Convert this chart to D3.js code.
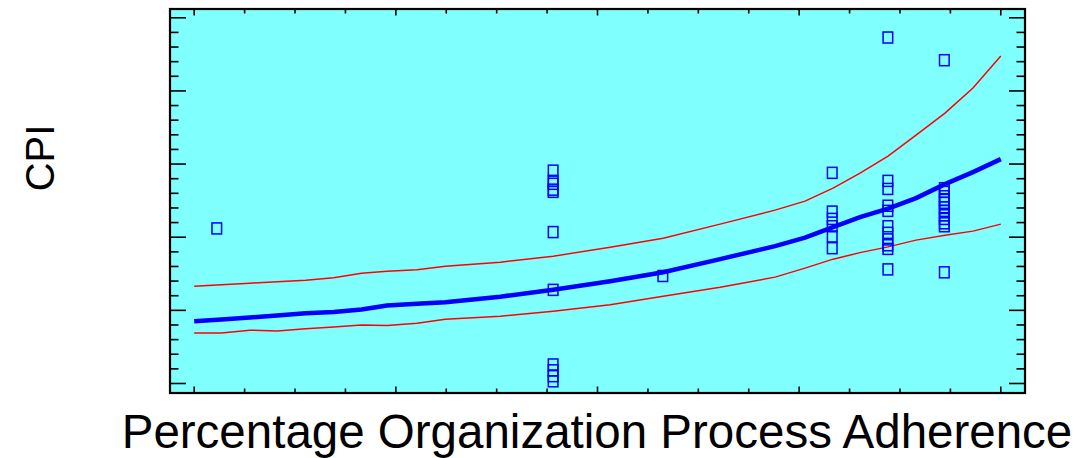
<!DOCTYPE html>
<html>
<head>
<meta charset="utf-8">
<script src="https://cdn.jsdelivr.net/npm/d3@7"></script>
<style>
  body { margin: 0; background: #fff; }
  text { font-family: "Liberation Sans", Arial, sans-serif; }
</style>
</head>
<body>
<svg id="chart"></svg>
<script>
const outerWidth = 1082;
const outerHeight = 458;
const plot = {left: 170, top: 9, right: 1025, bottom: 393};

// observations
const pointX = [2.8,
  44.5, 44.5, 44.5, 44.5, 44.5, 44.5, 44.5, 44.5, 44.5, 44.5, 44.5,
  58.1,
  79.1, 79.1, 79.1, 79.1, 79.1, 79.1,
  86.0, 86.0, 86.0, 86.0, 86.0, 86.0, 86.0, 86.0, 86.0, 86.0, 86.0,
  93.0, 93.0, 93.0, 93.0, 93.0, 93.0, 93.0, 93.0, 93.0, 93.0, 93.0, 93.0, 93.0];
const pointY = [2.12,
  2.91, 2.77, 2.73, 2.65, 2.62, 2.07, 1.28, 0.26, 0.18, 0.10, 0.03,
  1.47,
  2.88, 2.35, 2.25, 2.15, 2.01, 1.85,
  4.73, 2.77, 2.66, 2.43, 2.36, 2.15, 2.06, 1.97, 1.89, 1.84, 1.56,
  4.42, 2.67, 2.62, 2.56, 2.51, 2.47, 2.41, 2.36, 2.30, 2.25, 2.19, 2.15, 1.52];

// fitted model and limits
const fitX = [0, 3.38, 6.89, 10.28, 13.83, 17.29, 20.74, 23.91, 27.62, 31.13, 37.95, 44.51,
  51.57, 58.14, 65.20, 72.01, 75.73, 79.20, 82.55, 86.02, 89.49, 93.08, 96.55, 100];
const fitY = [0.852, 0.875, 0.903, 0.930, 0.961, 0.979, 1.012, 1.067, 1.089, 1.112, 1.187, 1.283,
  1.399, 1.522, 1.700, 1.878, 1.994, 2.138, 2.274, 2.391, 2.535, 2.726, 2.890, 3.068];
const upperY = [1.331, 1.351, 1.372, 1.392, 1.413, 1.447, 1.508, 1.536, 1.556, 1.604, 1.659, 1.741,
  1.864, 1.987, 2.179, 2.370, 2.493, 2.671, 2.876, 3.109, 3.396, 3.697, 4.039, 4.476];
const lowerY = [0.692, 0.692, 0.729, 0.719, 0.747, 0.774, 0.801, 0.793, 0.825, 0.879, 0.920, 0.989,
  1.078, 1.194, 1.317, 1.454, 1.577, 1.700, 1.789, 1.868, 1.960, 2.028, 2.083, 2.179];

const xMajor = [0, 25, 50, 75, 100];
const yMajor = [0, 1, 2, 3, 4, 5];

const x = d3.scaleLinear().domain([-3, 103]).range([plot.left, plot.right]);
const y = d3.scaleLinear().domain([-0.13, 5.12]).range([plot.bottom, plot.top]);

const svg = d3.select("#chart")
  .attr("width", outerWidth)
  .attr("height", outerHeight);

svg.append("rect")
  .attr("x", plot.left).attr("y", plot.top)
  .attr("width", plot.right - plot.left).attr("height", plot.bottom - plot.top)
  .style("fill", "#80ffff");

// ticks (inside, on all four sides)
var xMinor = d3.range(0, 100.01, 6.25).filter(d => xMajor.indexOf(d) < 0);
var yMinor = d3.range(0, 5.01, 0.2).map(d => +d.toFixed(1)).filter(d => yMajor.indexOf(d) < 0);

var ticks = svg.append("g").style("stroke", "black").style("stroke-width", 1.6);

function xTicks(vals, len) {
  vals.forEach(function (v) {
    ticks.append("line").attr("x1", x(v)).attr("x2", x(v)).attr("y1", plot.top).attr("y2", plot.top + len);
    ticks.append("line").attr("x1", x(v)).attr("x2", x(v)).attr("y1", plot.bottom).attr("y2", plot.bottom - len);
  });
}
function yTicks(vals, len) {
  vals.forEach(function (v) {
    ticks.append("line").attr("y1", y(v)).attr("y2", y(v)).attr("x1", plot.left).attr("x2", plot.left + len);
    ticks.append("line").attr("y1", y(v)).attr("y2", y(v)).attr("x1", plot.right).attr("x2", plot.right - len);
  });
}
xTicks(xMajor, 6.5);
xTicks(xMinor, 4.5);
yTicks(yMajor, 16);
yTicks(yMinor, 8.5);

// lines
var idx = d3.range(fitX.length);
function lineOf(vals) {
  return d3.line().x(i => x(fitX[i])).y(i => y(vals[i]))(idx);
}
svg.append("path").attr("d", lineOf(upperY))
  .style("fill", "none").style("stroke", "#ff0000").style("stroke-width", 1.5);
svg.append("path").attr("d", lineOf(lowerY))
  .style("fill", "none").style("stroke", "#ff0000").style("stroke-width", 1.5);
svg.append("path").attr("d", lineOf(fitY))
  .style("fill", "none").style("stroke", "#0000ff").style("stroke-width", 4.5);

// points
svg.append("g").selectAll("rect")
  .data(d3.range(pointX.length))
  .enter()
  .append("rect")
  .attr("x", i => x(pointX[i]) - 4.8)
  .attr("y", i => y(pointY[i]) - 5.5)
  .attr("width", 9.6).attr("height", 11)
  .style("fill", "none").style("stroke", "#0000ff").style("stroke-width", 1.5);

// frame
svg.append("rect")
  .attr("x", plot.left).attr("y", plot.top)
  .attr("width", plot.right - plot.left).attr("height", plot.bottom - plot.top)
  .style("fill", "none").style("stroke", "black").style("stroke-width", 2.2);

svg.append("text")
  .attr("x", 597).attr("y", 448)
  .attr("text-anchor", "middle")
  .style("font-size", "47.5px")
  .text("Percentage Organization Process Adherence");

svg.append("text")
  .attr("transform", "translate(54," + 158 + ") rotate(-90)")
  .attr("text-anchor", "middle")
  .style("font-size", "40px")
  .text("CPI");
</script>
</body>
</html>
